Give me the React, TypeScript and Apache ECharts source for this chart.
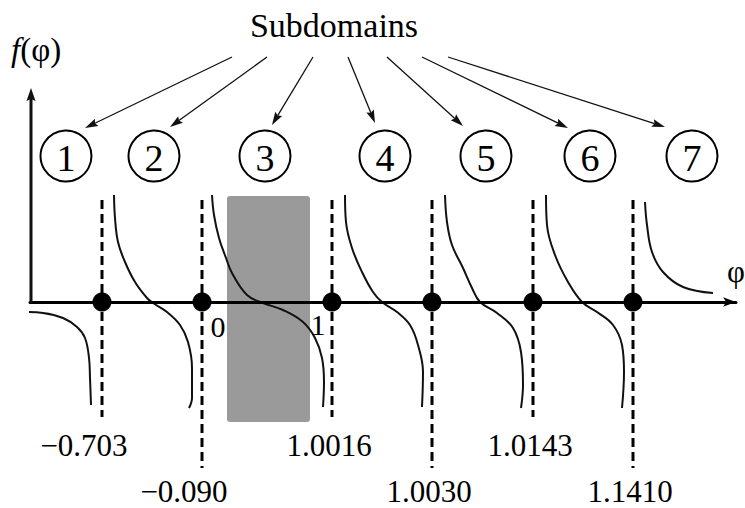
import React, { useEffect, useRef } from 'react';
import * as echarts from 'echarts';

// Diagram units: 1 unit = 10 px, φ-axis at y = 0
const subdomainIds = ['1', '2', '3', '4', '5', '6', '7'];
const subdomainX = [3.6, 12.4, 23.5, 35.5, 45.6, 56.0, 66.2];
const subdomainY = 14.6;

const arrowStartX = [20.2, 23.7, 28.3, 31.8, 35.7, 39.2, 41.8];
const arrowStartY = 24.5;
const arrowEndX = [5.5, 14.0, 24.2, 34.5, 43.3, 53.8, 63.5];
const arrowEndY = [17.4, 17.5, 17.7, 17.9, 17.6, 17.4, 17.5];

const asymptoteLabels = ['\u22120.703', '\u22120.090', '1.0016', '1.0030', '1.0143', '1.1410'];
const asymptoteX = [7.2, 17.2, 30.2, 40.2, 50.3, 60.3];
const asymptoteTop = 10.2;
const asymptoteBottom = [-11.5, -16.6, -11.5, -16.6, -11.5, -16.6];

const intervalLabels = ['0', '1'];
const intervalLabelX = [18.8, 28.8];
const intervalLabelY = [-2.4, -2.2];

const shadedX = [19.7, 28.0];
const shadedY = [-12.0, 10.6];

const yAxisTop = 21.4;

const branch1 = [[-0.7, -1.0], [1.3, -1.1], [3.3, -1.6], [4.7, -2.5], [5.5, -3.6], [5.9, -5.6], [6.0, -7.6], [6.1, -10.3]];
const branch2 = [[8.4, 10.7], [8.5, 8.4], [8.8, 6.0], [9.5, 4.0], [10.5, 2.0], [11.7, 0.4], [12.3, -0.1], [13.7, -1.0], [15.0, -2.3], [15.8, -4.0], [16.2, -6.6], [16.2, -9.6], [15.9, -10.6]];
const branch3 = [[18.2, 10.7], [18.4, 8.7], [18.9, 6.4], [19.6, 4.4], [20.2, 2.9], [21.7, 0.7], [23.3, -0.1], [25.3, -0.8], [27.3, -2.0], [28.5, -3.6], [29.2, -5.6], [29.4, -8.0], [29.3, -10.5]];
const branch4 = [[31.5, 10.7], [31.6, 8.0], [32.2, 5.4], [33.2, 3.0], [34.3, 1.0], [35.2, 0.0], [36.7, -1.0], [38.0, -2.3], [38.8, -4.3], [39.3, -7.0], [39.2, -10.5]];
const branch5 = [[41.5, 10.7], [41.7, 8.0], [42.2, 5.7], [43.3, 3.4], [44.2, 1.4], [45.0, 0.0], [46.7, -1.1], [48.3, -2.6], [49.1, -5.0], [49.3, -8.3], [49.1, -10.6]];
const branch6 = [[51.6, 10.7], [51.7, 7.7], [52.5, 4.7], [53.8, 2.0], [55.2, 0.0], [56.7, -1.0], [58.3, -2.3], [59.2, -4.3], [59.4, -7.0], [59.2, -10.6]];
const branch7 = [[61.5, 10.0], [61.7, 7.7], [62.2, 5.0], [63.3, 3.0], [65.3, 1.5], [68.3, 0.9]];

const branches = [branch1, branch2, branch3, branch4, branch5, branch6, branch7];

export default function App() {
  const ref = useRef<HTMLDivElement>(null);

  useEffect(() => {
    const chart = echarts.init(ref.current!, null, { renderer: 'svg' });
    const serif = "'Liberation Serif', 'DejaVu Serif', serif";
    const ink = '#000';

    const makeArrow = (lineWidth: number, headLen: number, headHalf: number) =>
      (params: any, api: any) => {
        const p1 = api.coord([api.value(0), api.value(1)]);
        const p2 = api.coord([api.value(2), api.value(3)]);
        const dx = p2[0] - p1[0];
        const dy = p2[1] - p1[1];
        const len = Math.sqrt(dx * dx + dy * dy) || 1;
        const ux = dx / len;
        const uy = dy / len;
        const bx = p2[0] - ux * headLen;
        const by = p2[1] - uy * headLen;
        return {
          type: 'group',
          children: [
            {
              type: 'line',
              shape: { x1: p1[0], y1: p1[1], x2: bx + ux * 2, y2: by + uy * 2 },
              style: { stroke: '#111', lineWidth },
            },
            {
              type: 'polygon',
              shape: {
                points: [
                  [p2[0], p2[1]],
                  [bx - uy * headHalf, by + ux * headHalf],
                  [bx + ux * headLen * 0.15, by + uy * headLen * 0.15],
                  [bx + uy * headHalf, by - ux * headHalf],
                ],
              },
              style: { fill: '#111' },
            },
          ],
        };
      };

    const labelBase = {
      show: true,
      position: 'inside',
      formatter: (p: any) => p.name,
      fontFamily: serif,
      color: ink,
      opacity: 1,
    };

    const option: any = {
      animation: false,
      grid: { left: 30, right: 9, top: 0, bottom: 0 },
      xAxis: {
        type: 'value',
        min: 0,
        max: 70.6,
        z: 3,
        axisLine: {
          onZero: true,
          symbol: ['none', 'arrow'],
          symbolSize: [7, 13],
          lineStyle: { color: '#000', width: 3 },
        },
        axisTick: { show: false },
        axisLabel: { show: false },
        splitLine: { show: false },
      },
      yAxis: { type: 'value', min: -20.6, max: 30.2, show: false },
      graphic: [
        {
          type: 'text',
          x: 11,
          y: 50,
          style: {
            text: '{i|f}(\u03c6)',
            fontSize: 33,
            fontFamily: serif,
            fill: ink,
            textVerticalAlign: 'middle',
            rich: { i: { fontStyle: 'italic', fontSize: 33, fontFamily: serif, fill: ink } },
          },
        },
        {
          type: 'text',
          x: 334,
          y: 25,
          style: {
            text: 'Subdomains',
            fontSize: 34,
            fontFamily: serif,
            fill: ink,
            textAlign: 'center',
            textVerticalAlign: 'middle',
          },
        },
        {
          type: 'text',
          x: 727,
          y: 271,
          style: {
            text: '\u03c6',
            fontSize: 31,
            fontFamily: serif,
            fill: ink,
            textVerticalAlign: 'middle',
          },
        },
      ],
      series: [
        {
          type: 'custom',
          z: 1,
          clip: false,
          encode: { x: [0, 2], y: [1, 3] },
          data: [[shadedX[0], shadedY[0], shadedX[1], shadedY[1]]],
          renderItem: (params: any, api: any) => {
            const a = api.coord([api.value(0), api.value(3)]);
            const b = api.coord([api.value(2), api.value(1)]);
            return {
              type: 'rect',
              shape: { x: a[0], y: a[1], width: b[0] - a[0], height: b[1] - a[1], r: 3 },
              style: { fill: '#9a9a9a' },
            };
          },
        },
        ...branches.map((b) => ({
          type: 'line',
          z: 2,
          clip: false,
          smooth: 0.4,
          showSymbol: false,
          symbol: 'none',
          data: b,
          lineStyle: { color: '#111', width: 2 },
        })),
        {
          type: 'custom',
          z: 4,
          clip: false,
          encode: { x: 0, y: [1, 2] },
          data: asymptoteX.map((x, i) => [x, asymptoteTop, asymptoteBottom[i]]),
          renderItem: (params: any, api: any) => {
            const p1 = api.coord([api.value(0), api.value(1)]);
            const p2 = api.coord([api.value(0), api.value(2)]);
            return {
              type: 'line',
              shape: { x1: p1[0], y1: p1[1], x2: p2[0], y2: p2[1] },
              style: { stroke: '#000', lineWidth: 3, lineDash: [9, 5] },
            };
          },
        },
        {
          type: 'scatter',
          z: 5,
          symbolSize: 19,
          itemStyle: { color: '#000', opacity: 1 },
          data: asymptoteX.map((x) => [x, 0]),
        },
        {
          type: 'scatter',
          z: 5,
          symbolSize: 1,
          itemStyle: { color: 'rgba(0,0,0,0)', opacity: 1 },
          data: asymptoteX.map((x, i) => ({
            value: [x, asymptoteBottom[i]],
            name: asymptoteLabels[i],
            label: {
              offset: [asymptoteLabels[i].startsWith('\u2212') ? -18 : -3, asymptoteBottom[i] < -14 ? 23 : 28],
            },
          })),
          label: { ...labelBase, fontSize: 31, lineHeight: 28 },
        },
        {
          type: 'scatter',
          z: 5,
          symbolSize: 1,
          itemStyle: { color: 'rgba(0,0,0,0)', opacity: 1 },
          data: intervalLabels.map((t, i) => ({ value: [intervalLabelX[i], intervalLabelY[i]], name: t })),
          label: { ...labelBase, fontSize: 30 },
        },
        {
          type: 'scatter',
          z: 5,
          symbolSize: 51,
          itemStyle: { color: '#fff', borderColor: '#000', borderWidth: 2, opacity: 1 },
          data: subdomainIds.map((id, i) => ({ value: [subdomainX[i], subdomainY], name: id })),
          label: { ...labelBase, fontSize: 38, offset: [0, 2] },
        },
        {
          type: 'custom',
          z: 5,
          clip: false,
          encode: { x: [0, 2], y: [1, 3] },
          data: arrowStartX.map((x, i) => [x, arrowStartY, arrowEndX[i], arrowEndY[i]]),
          renderItem: makeArrow(1.3, 13, 4),
        },
        {
          type: 'custom',
          z: 5,
          clip: false,
          encode: { x: [0, 2], y: [1, 3] },
          data: [[0.1, -0.15, 0.1, yAxisTop]],
          renderItem: makeArrow(3, 13, 4.5),
        },
      ],
    };

    chart.setOption(option);
    return () => chart.dispose();
  }, []);

  return (
    <div
      ref={ref}
      style={{ position: 'absolute', left: 0, top: 0, width: 745, height: 508, background: '#fff' }}
    />
  );
}
